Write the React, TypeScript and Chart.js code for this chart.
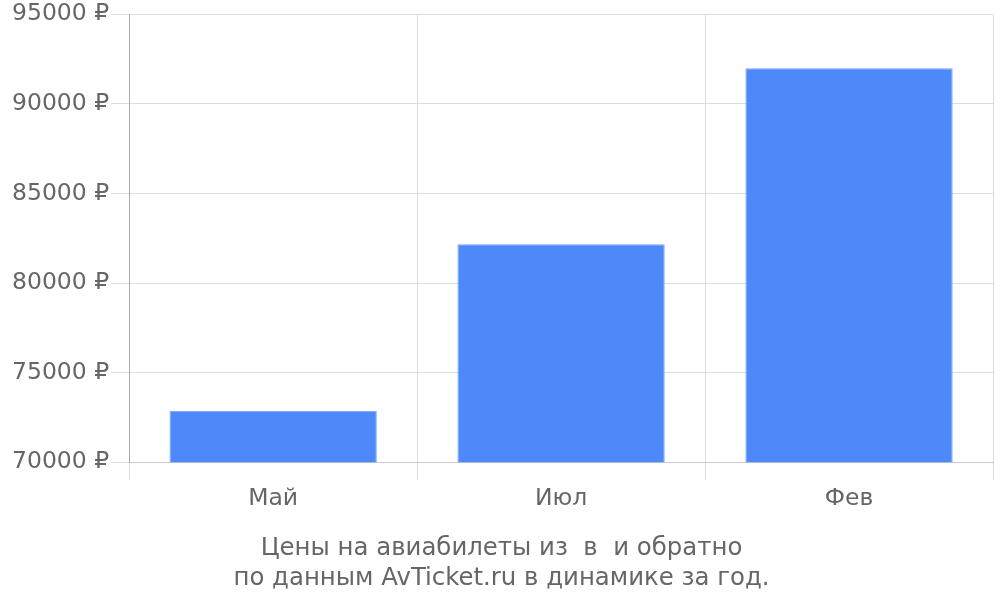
import React, { useEffect, useRef } from "react";
import { Chart, registerables } from "chart.js";

Chart.register(...registerables);

const categories = ["Май", "Июл", "Фев"];
const prices = [72870, 82170, 91990];
const titleLines = ["Цены на авиабилеты из  в  и обратно", "по данным AvTicket.ru в динамике за год."];

export default function App() {
  const ref = useRef<HTMLCanvasElement>(null);
  useEffect(() => {
    document.body.style.margin = "0";
    const ctx = ref.current!;
    const chart = new Chart(ctx, {
      type: "bar",
      data: {
        labels: categories,
        datasets: [
          {
            data: prices,
            backgroundColor: "#4d89f9",
            borderColor: "#7aa7fb",
            borderWidth: 1,
          },
        ],
      },
      options: {
        animation: false,
        responsive: false,
        maintainAspectRatio: false,
        layout: { padding: { top: 0, right: 7, left: 10, bottom: 7 } },
        plugins: {
          legend: { display: false },
          tooltip: { enabled: false },
          title: {
            display: true,
            position: "bottom",
            text: titleLines,
            color: "#666",
            font: { family: "DejaVu Sans", size: 24.4, weight: "normal" },
            padding: { top: 16, bottom: 0 },
            lineHeight: 1.15,
          },
        },
        scales: {
          x: {
            grid: { color: "#dddddd", tickLength: 18, offset: true },
            border: { color: "#cccccc" },
            ticks: { color: "#666", font: { family: "DejaVu Sans", size: 23.5 }, padding: 5 },
          },
          y: {
            min: 70000,
            max: 95000,
            grid: { color: "#dddddd", tickLength: 18 },
            border: { color: "#aaaaaa" },
            ticks: {
              stepSize: 5000,
              color: "#666",
              font: { family: "DejaVu Sans", size: 23.5, lineHeight: 1.05 },
              padding: 2,
              callback: (v: any) => `${v} ₽`,
            },
          },
        },
      },
    });
    return () => chart.destroy();
  }, []);
  return (
    <div style={{ width: 1000, height: 600 }}>
      <canvas ref={ref} width={1000} height={600} style={{ width: 1000, height: 600 }} />
    </div>
  );
}
